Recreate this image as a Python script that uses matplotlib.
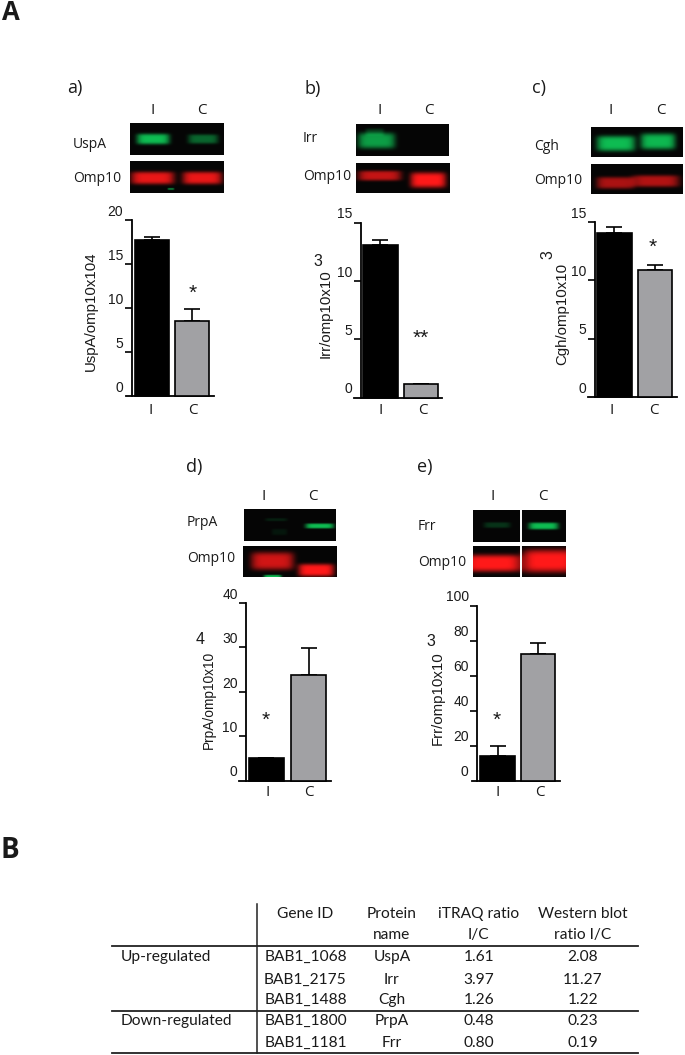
import numpy as np
import matplotlib
matplotlib.use("Agg")
import matplotlib.pyplot as plt
from matplotlib.transforms import ScaledTranslation

W, H = 685, 1055

# bar values: [I, C]
uspa_vals = [17.76, 8.5]
uspa_errs = [0.27, 1.4]
irr_vals = [13.05, 1.15]
irr_errs = [0.45, 0.06]
cgh_vals = [14.05, 10.9]
cgh_errs = [0.55, 0.4]
prpa_vals = [5.0, 23.7]
prpa_errs = [0.15, 6.2]
frr_vals = [14.3, 72.4]
frr_errs = [5.8, 6.4]
groups = ["I", "C"]

# table
gene_ids = ["BAB1_1068", "BAB1_2175", "BAB1_1488", "BAB1_1800", "BAB1_1181"]
proteins = ["UspA", "Irr", "Cgh", "PrpA", "Frr"]
itraq = ["1.61", "3.97", "1.26", "0.48", "0.80"]
western = ["2.08", "11.27", "1.22", "0.23", "0.19"]

plt.rcParams["font.family"] = ["Liberation Sans", "DejaVu Sans"]

fig = plt.figure(figsize=(W / 100, H / 100), dpi=100)
bg = fig.add_axes([0, 0, 1, 1])
bg.set_xlim(0, W)
bg.set_ylim(H, 0)
bg.axis("off")


def label(x, y, s, size=10, ha="center", family="Open Sans", **kw):
    bg.text(x, y, s, fontsize=size, ha=ha, va="center", family=family, color="#1a1a1a", **kw)


def axes_px(x0, x1, y_top, y_bot):
    ax = fig.add_axes([x0 / W, 1 - y_bot / H, (x1 - x0) / W, (y_bot - y_top) / H])
    ax.patch.set_visible(False)
    return ax


def bar_panel(x0, x1, spine_x, y_top, y_bot, bar_l, bar_r, vals, errs, ymax, step):
    ax = axes_px(x0, x1, y_top, y_bot)
    # x data in bar pitch units, 0 and 1 are the bar centres
    width = (bar_r[1] - bar_l[1])
    pitch = (bar_l[1] + bar_r[1]) / 2 - (bar_l[0] + bar_r[0]) / 2
    c0 = (bar_l[0] + bar_r[0]) / 2
    ax.set_xlim((x0 - c0) / pitch, (x1 - c0) / pitch)
    ax.set_ylim(0, ymax)
    ax.bar([0, 1], vals, width=width / pitch, color=["black", "#a1a1a4"],
           edgecolor="black", linewidth=1.2, zorder=3, clip_on=False)
    for i in range(2):
        ax.errorbar(i, vals[i], yerr=[[0], [errs[i]]], color="black", lw=1.2,
                    capsize=6, capthick=1.2, zorder=2, clip_on=False)
    ax.spines["top"].set_visible(False)
    ax.spines["right"].set_visible(False)
    ax.spines["left"].set_linewidth(1.3)
    ax.spines["bottom"].set_linewidth(1.3)
    ax.spines["left"].set_position(("data", (spine_x - c0) / pitch))
    ax.set_xticks([])
    ax.set_yticks(np.arange(0, ymax + 1, step))
    ax.tick_params(axis="y", length=5, width=1.2, pad=1, labelsize=10, labelcolor="#1a1a1a")
    # the numbers sit above their ticks in the original
    shift = ScaledTranslation(0, 7 / 72, fig.dpi_scale_trans)
    for lab in ax.get_yticklabels():
        lab.set_transform(lab.get_transform() + shift)
    ax.get_yticklines()[0].set_visible(False)
    return ax


def blot(x0, x1, y0, y1, bands, split=None):
    ax = axes_px(x0, x1, y0, y1)
    nx, ny = 160, 60
    xx, yy = np.meshgrid(np.linspace(0, 1, nx), np.linspace(0, 1, ny))
    img = np.zeros((ny, nx, 3))
    img[..., :] = 0.02
    for chan, xa, xb, yc, hh, amp in bands:
        xc = (xa + xb) / 2
        xw = (xb - xa) / 2
        prof = np.exp(-((xx - xc) / xw) ** 6) * np.exp(-((yy - yc) / hh) ** 4)
        img[..., chan] += amp * prof
        if chan == 1:
            img[..., 2] += 0.42 * amp * prof
            img[..., 0] += 0.05 * amp * prof
        else:
            img[..., 1] += 0.08 * amp * prof
            img[..., 2] += 0.08 * amp * prof
    ax.imshow(np.clip(img, 0, 1), aspect="auto", extent=(0, 1, 1, 0), interpolation="bilinear")
    if split is not None:
        ax.axvline(split, color="white", lw=1.4)
    ax.axis("off")


R, G = 0, 1
LAB = 10.8  # rotated y labels
TOP = 11  # the I / C letters

# a) UspA
label(75, 88, "a)", size=13)
label(153, 110, "I", size=TOP)
label(202, 110, "C", size=TOP)
label(73, 145, "UspA", ha="left")
label(73, 179, "Omp10", ha="left")
blot(130, 224, 123, 155, [(G, .07, .42, .5, .17, .72), (G, .62, .94, .5, .15, .38)])
blot(130, 224, 161, 193, [(R, .01, .47, .53, .2, .9), (R, .56, .98, .53, .2, .9), (G, .4, .47, .88, .03, .5)])
bar_panel(126, 214, 131.7, 220, 396, [134.3, 175], [169, 209.3], uspa_vals, uspa_errs, 20, 5)
label(91, 311, "UspA/omp10x104", size=LAB, family="Liberation Sans", rotation=90)
label(193, 293, "*", size=15, family="Liberation Sans")
label(151, 411, groups[0], size=TOP)
label(193, 411, groups[1], size=TOP)

# b) Irr
label(313, 89, "b)", size=13)
label(380, 110, "I", size=TOP)
label(429, 110, "C", size=TOP)
label(303, 139, "Irr", ha="left")
label(303, 177, "Omp10", ha="left")
blot(356, 449, 124, 156, [(G, .02, .42, .52, .25, .6), (G, .1, .3, .25, .12, .18)])
blot(356, 450, 163, 193, [(R, .02, .48, .42, .17, .75), (R, .58, .96, .57, .26, 1.0)])
bar_panel(354, 442, 360.7, 222.7, 397.7, [363, 403.7], [397.7, 438], irr_vals, irr_errs, 15, 5)
label(326, 314, "Irr/omp10x10", size=LAB, family="Liberation Sans", rotation=90)
label(318, 261, "3", size=11.5, family="Liberation Sans")
label(421, 338, "**", size=15, family="Liberation Sans")
label(381, 410, groups[0], size=TOP)
label(423, 410, groups[1], size=TOP)

# c) Cgh
label(539, 88, "c)", size=13)
label(611, 110, "I", size=TOP)
label(661, 110, "C", size=TOP)
label(534, 146, "Cgh", ha="left")
label(534, 181, "Omp10", ha="left")
blot(591, 683, 127, 157, [(G, .06, .48, .55, .26, .72), (G, .54, .92, .48, .27, .7)])
blot(591, 683, 164, 194, [(R, .06, .47, .63, .2, .65), (R, .45, .96, .57, .2, .68)])
bar_panel(588, 677, 595, 222, 397, [597, 637.7], [631.7, 672], cgh_vals, cgh_errs, 15, 5)
label(562, 314, "Cgh/omp10x10", size=LAB, family="Liberation Sans", rotation=90)
label(548, 255, "3", size=11.5, family="Liberation Sans", rotation=90)
label(653, 247, "*", size=15, family="Liberation Sans")
label(612, 410, groups[0], size=TOP)
label(654, 410, groups[1], size=TOP)

# d) PrpA
label(194, 467, "d)", size=13)
label(264, 497, "I", size=TOP)
label(313, 497, "C", size=TOP)
label(187, 522, "PrpA", ha="left")
label(187, 558, "Omp10", ha="left")
blot(244, 336, 509, 541, [(G, .67, .98, .53, .08, .72), (G, .23, .47, .33, .05, .1), (G, .3, .47, .72, .1, .07)])
blot(243, 336, 546, 577, [(R, .085, .54, .5, .28, .8), (R, .59, .97, .79, .2, 1.0), (G, .22, .41, .99, .05, .7)])
bar_panel(239, 331, 246, 603, 780.7, [248, 290.7], [284.7, 326.3], prpa_vals, prpa_errs, 40, 10)
label(209, 700, "PrpA/omp10x10", size=9.9, family="Liberation Sans", rotation=90)
label(200, 640, "4", size=11.5, family="Liberation Sans")
label(266, 720, "*", size=15, family="Liberation Sans")
label(268, 793, groups[0], size=TOP)
label(309, 793, groups[1], size=TOP)

# e) Frr
label(425, 467, "e)", size=13)
label(493, 497, "I", size=TOP)
label(543, 497, "C", size=TOP)
label(418, 527, "Frr", ha="left")
label(418, 562, "Omp10", ha="left")
blot(473, 565, 510, 542, [(G, .115, .4, .47, .09, .18), (G, .6, .92, .5, .11, .72)], split=.525)
blot(473, 565, 546, 577, [(R, -.1, .52, .57, .27, 1.0), (R, .54, 1.1, .5, .36, 1.0)], split=.525)
bar_panel(471.7, 560, 477, 605.7, 780.7, [480, 520.7], [515, 555.3], frr_vals, frr_errs, 100, 20)
label(438, 698, "Frr/omp10x10", size=LAB, family="Liberation Sans", rotation=90)
label(431, 642, "3", size=11.5, family="Liberation Sans")
label(497, 720, "*", size=15, family="Liberation Sans")
label(498, 793, groups[0], size=TOP)
label(540, 793, groups[1], size=TOP)

# panel letters
label(11, 12.5, "A", size=18.5, family="Open Sans", fontweight="bold")
label(10, 850, "B", size=20, family="Open Sans", fontweight="bold")

# table B
col_x = [305.5, 392, 478.7, 582.7]
row_y = [957, 980, 1000, 1021, 1043]
tf = "Lato"
ts = 11.2
label(col_x[0], 914, "Gene ID", family=tf, size=ts)
label(col_x[1], 914, "Protein", family=tf, size=ts)
label(col_x[1], 935, "name", family=tf, size=ts)
label(col_x[2], 914, "iTRAQ ratio", family=tf, size=ts)
label(col_x[2], 935, "I/C", family=tf, size=ts)
label(col_x[3], 914, "Western blot", family=tf, size=ts)
label(col_x[3], 935, "ratio I/C", family=tf, size=ts)
label(120.7, row_y[0], "Up-regulated", ha="left", family=tf, size=ts)
label(120.7, row_y[3], "Down-regulated", ha="left", family=tf, size=ts)
for i in range(len(gene_ids)):
    label(col_x[0], row_y[i], gene_ids[i], family=tf, size=ts)
    label(col_x[1], row_y[i], proteins[i], family=tf, size=ts)
    label(col_x[2], row_y[i], itraq[i], family=tf, size=ts)
    label(col_x[3], row_y[i], western[i], family=tf, size=ts)
for y in [945.7, 1011, 1052.7]:
    bg.plot([112, 638], [y, y], color="#222222", lw=1.3)
bg.plot([257, 257], [904, 1052.7], color="#222222", lw=1.1)
bg.set_xlim(0, W)
bg.set_ylim(H, 0)

fig.savefig("out.png", dpi=100)
